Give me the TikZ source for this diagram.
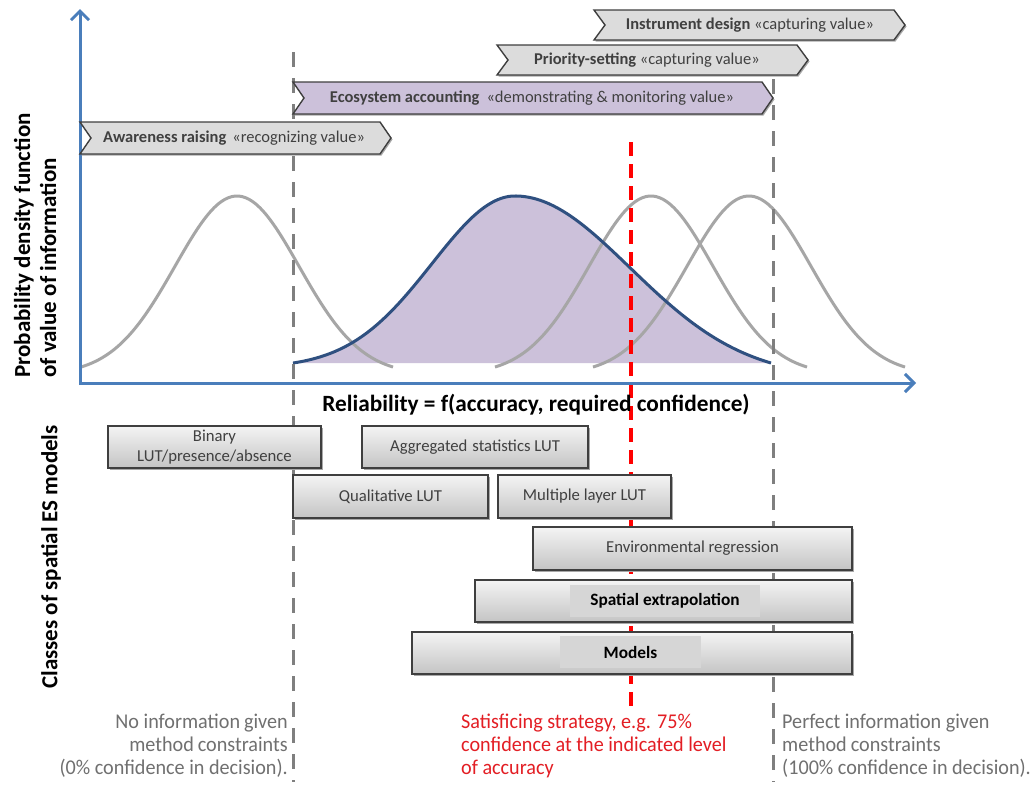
\documentclass[tikz,border=0pt]{standalone}
\usepackage{fontspec}
\setmainfont{Carlito}
\newfontfamily\condfont[FakeStretch=0.96]{Carlito}
\usetikzlibrary{arrows.meta,shadows}
\definecolor{axisblue}{HTML}{4A7EBB}
\definecolor{curveblue}{HTML}{2F5080}
\definecolor{purplefill}{HTML}{CCC1DA}
\definecolor{bellgray}{HTML}{A6A6A6}
\definecolor{dashgray}{HTML}{7F7F7F}
\definecolor{satred}{HTML}{FF0000}
\definecolor{redtext}{HTML}{E31E24}
\definecolor{graytext}{HTML}{707070}
\definecolor{boxline}{HTML}{3F3F3F}
\definecolor{boxtop}{HTML}{F4F4F4}
\definecolor{boxbot}{HTML}{C4C4C4}
\definecolor{boxmid}{HTML}{DCDCDC}
\definecolor{boxtext}{HTML}{404040}
\definecolor{chevgray}{HTML}{DCDCDC}
\definecolor{innerfill}{HTML}{D6D6D6}
\definecolor{shadowgray}{HTML}{A8A8A8}
\tikzset{
  axisline/.style={draw=axisblue, line width=3pt, -{Straight Barb[length=9pt,width=18pt,line width=3pt]}},
  bellline/.style={draw=bellgray, line width=3pt},
  vdash/.style={draw=dashgray, line width=3pt, dash pattern=on 15pt off 11pt},
  reddash/.style={draw=satred, line width=4pt, dash pattern=on 14pt off 8pt},
  myshadow/.style={drop shadow={shadow xshift=1.5pt, shadow yshift=-1.5pt, opacity=1, fill=shadowgray}},
  chevshape/.style={draw=boxline, line width=1.4pt, myshadow},
  chevtext/.style={font=\fontsize{16.5}{19}\selectfont, text=boxtext, inner sep=0pt},
  clsbox/.style={myshadow, preaction={fill=boxmid}, draw=boxline, line width=1.3pt, top color=boxtop, bottom color=boxbot, inner sep=0pt, align=center, font=\fontsize{16.7}{20}\selectfont, text=boxtext},
  innerbox/.style={fill=innerfill, inner sep=0pt, font=\bfseries\fontsize{17.3}{20}\selectfont, text=black},
  axislabel/.style={font=\bfseries\fontsize{23}{26}\selectfont, text=black, inner sep=0pt},
  bottomtext/.style={font=\condfont\fontsize{21}{23}\selectfont, inner sep=0pt}
}
\newcommand\mychevron[5]{%
  \draw[chevshape, fill=#5] (#1,#3) -- ({#2-11},#3) -- (#2,{(#3+#4)/2}) -- ({#2-11},#4) -- (#1,#4) -- ({#1+11},{(#3+#4)/2}) -- cycle;}
\begin{document}
\begin{tikzpicture}[x=1pt,y=-1pt]
\useasboundingbox[fill=white] (0,0) rectangle (1033,785);
% coordinates
\coordinate (O) at (80,383);
\coordinate (Xend) at (916,383);
\coordinate (Ybot) at (80,385);
\coordinate (Yend) at (80,9);
\coordinate (lt) at (293,52);
\coordinate (lb) at (293,782);
\coordinate (rt) at (773,79);
\coordinate (rb) at (773,782);
\coordinate (redt) at (631,142);
\coordinate (redb) at (631,706);
% purple distribution
\fill[purplefill] plot[domain=293:515, samples=80, smooth] (\x,{363-167*(exp(-0.5*((\x-515)/83)^2)-0.028)/0.972})
  -- plot[domain=515:771, samples=80, smooth] (\x,{363-167*(exp(-0.5*((\x-515)/115)^2)-0.0839)/0.9161}) -- cycle;
% gray bells
\foreach \c in {237,651,749}{
  \pgfmathsetmacro\ca{\c-156}
  \pgfmathsetmacro\cb{\c+156}
  \draw[bellline] plot[domain=\ca:\cb, samples=90, smooth] (\x,{367-171*(exp(-0.5*((\x-\c)/62)^2)-0.0422)/0.9578});
}
% blue outline
\draw[curveblue, line width=3pt] plot[domain=293:515, samples=80, smooth] (\x,{363-167*(exp(-0.5*((\x-515)/83)^2)-0.028)/0.972})
  -- plot[domain=515:771, samples=80, smooth] (\x,{363-167*(exp(-0.5*((\x-515)/115)^2)-0.0839)/0.9161});
% vertical dashed lines
\draw[vdash] (lt) -- (lb);
\draw[vdash] (rt) -- (rb);
\draw[reddash] (redt) -- (redb);
% axes
\draw[axisline] (Ybot) -- (Yend);
\draw[axisline] (O) -- (Xend);
% chevrons
\mychevron{594}{905}{10}{40}{chevgray}
\node[chevtext] (instr) at (750,25) {\textbf{Instrument design} «capturing value»};
\mychevron{497}{808}{45}{75}{chevgray}
\node[chevtext] (prio) at (647,60) {\textbf{Priority-setting} «capturing value»};
\mychevron{293}{773}{82}{114}{purplefill}
\node[chevtext] (eco) at (532,98) {\textbf{Ecosystem accounting}\hspace{7pt}«demonstrating \& monitoring value»};
\mychevron{80}{391}{122}{154}{chevgray}
\node[chevtext] (aware) at (234,138) {\textbf{Awareness raising}\hspace{6pt}«recognizing value»};
% axis labels
\node[axislabel, rotate=90, anchor=west, align=left] (ylab) at (35,378) {Probability density function\\of value of information};
\node[axislabel, rotate=90] (clslab) at (51,557) {Classes of spatial ES models};
\node[font=\bfseries\fontsize{23.3}{26}\selectfont, inner sep=0pt] (rel) at (536,405) {Reliability = f(accuracy, required confidence)};
% class boxes
\node[clsbox, minimum width=213pt, minimum height=42pt] (bin) at (214.5,447) {Binary\\LUT/presence/absence};
\node[clsbox, minimum width=226pt, minimum height=42pt] (agg) at (475,447) {Aggregated\hspace{5pt}statistics LUT};
\node[clsbox, minimum width=195pt, minimum height=43pt] (qual) at (390.5,496.5) {Qualitative LUT};
\node[clsbox, minimum width=173pt, minimum height=43pt] (mult) at (584.5,496.5) {Multiple layer LUT};
\node[clsbox, minimum width=319pt, minimum height=43pt] (env) at (692.5,548.5) {Environmental regression};
\node[clsbox, minimum width=377pt, minimum height=42pt] (spat) at (663.5,601) {};
\node[innerbox, minimum width=190pt, minimum height=32pt] (spatin) at (665,601) {Spatial extrapolation};
\node[clsbox, minimum width=440pt, minimum height=42pt] (mod) at (632,653) {};
\node[innerbox, minimum width=141pt, minimum height=32pt] (modin) at (630.5,652) {Models};
% bottom texts
\node[bottomtext, text=graytext, anchor=north east, align=right] (noinfo) at (288,714) {No information\hspace{4pt}given\\method\hspace{4pt}constraints\\(0\% confidence in decision).};
\node[bottomtext, text=redtext, anchor=north west, align=left] (satis) at (461,714) {Satisficing strategy, e.g. 75\%\\confidence at the indicated level\\of accuracy};
\node[bottomtext, text=graytext, anchor=north west, align=left] (perfect) at (782,714) {Perfect information given\\method\hspace{4pt}constraints\\(100\% confidence in decision).};
\end{tikzpicture}
\end{document}
